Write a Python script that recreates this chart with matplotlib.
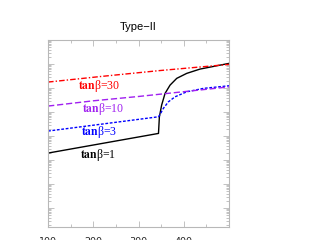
import matplotlib
matplotlib.use('Agg')
import matplotlib.pyplot as plt
from matplotlib.ticker import MultipleLocator, FixedFormatter, LogLocator, NullFormatter

plt.rcParams['mathtext.fontset'] = 'stix'

# tan(beta) = 1, below and above the 2*m_t threshold
x1 = [100, 344, 346, 351, 358.5, 369.6, 384.3, 406.4, 435.9, 472.8, 500]
y1 = [1.96e-4, 1.29e-3, 6.4e-3, 0.0196, 0.060, 0.133, 0.254, 0.41, 0.62, 0.85, 1.07]
# tan(beta) = 3
x3 = [100, 344, 347.5, 354.8, 365.9, 380.7, 406.5, 443.2, 500]
y3 = [1.62e-3, 6.37e-3, 8.0e-3, 0.01426, 0.0268, 0.0434, 0.0701, 0.097, 0.125]
# tan(beta) = 10
x10 = [100, 200, 300, 400, 500]
y10 = [0.0178, 0.0295, 0.0447, 0.0708, 0.112]
# tan(beta) = 30
x30 = [100, 215, 347, 500]
y30 = [0.178, 0.302, 0.537, 0.97]

label_vals = ['30', '10', '3', '1']
label_x = [166, 175, 173, 171]
label_y = [0.121, 0.0133, 1.48e-3, 1.62e-4]
colors = ['#ff0000', '#a020f0', '#0000ff', 'black']
xtick_labels = ['100', '200', '300', '400', '']

fig = plt.figure(figsize=(3.1, 2.4), dpi=100)
ax = fig.add_axes([0.155, 0.054, 0.584, 0.779])

ax.plot(x1, y1, color='black', lw=1.0)
ax.plot(x3, y3, color='#0000ff', lw=1.0, dashes=(2, 1.2))
ax.plot(x10, y10, color='#a020f0', lw=1.0, dashes=(4.5, 2))
ax.plot(x30, y30, color='#ff0000', lw=1.0, dashes=(4, 1.5, 1, 1.5))

for v, lx, ly, c in zip(label_vals, label_x, label_y, colors):
    ax.text(lx, ly, r'$\mathbf{tan}$β=' + v, color=c, fontsize=8.5,
            family='Liberation Serif', ha='left', va='center')

ax.set_yscale('log')
ax.set_xlim(100, 500)
ax.set_ylim(10 ** -6.79, 10)
ax.xaxis.set_major_locator(MultipleLocator(100))
ax.xaxis.set_minor_locator(MultipleLocator(50))
ax.xaxis.set_major_formatter(FixedFormatter(xtick_labels))
ax.yaxis.set_major_locator(LogLocator(base=10, numticks=20))
ax.yaxis.set_minor_locator(LogLocator(base=10, subs=range(2, 10), numticks=20))
ax.yaxis.set_major_formatter(NullFormatter())
ax.yaxis.set_minor_formatter(NullFormatter())

for s in ax.spines.values():
    s.set_color('#b8b8b8')
    s.set_linewidth(0.8)
ax.tick_params(which='both', direction='in', top=True, right=True,
               color='#b8b8b8', width=0.6)
ax.tick_params(which='major', length=4)
ax.tick_params(which='minor', length=2)
ax.tick_params(axis='x', which='major', labelsize=6.8, pad=7, labelcolor='#222222')
ax.set_xticks([100, 200, 300, 400, 500])

ax.set_title('Type\u2212II', fontsize=8, pad=7, family='Liberation Sans')

fig.savefig('out.png', dpi=100)
